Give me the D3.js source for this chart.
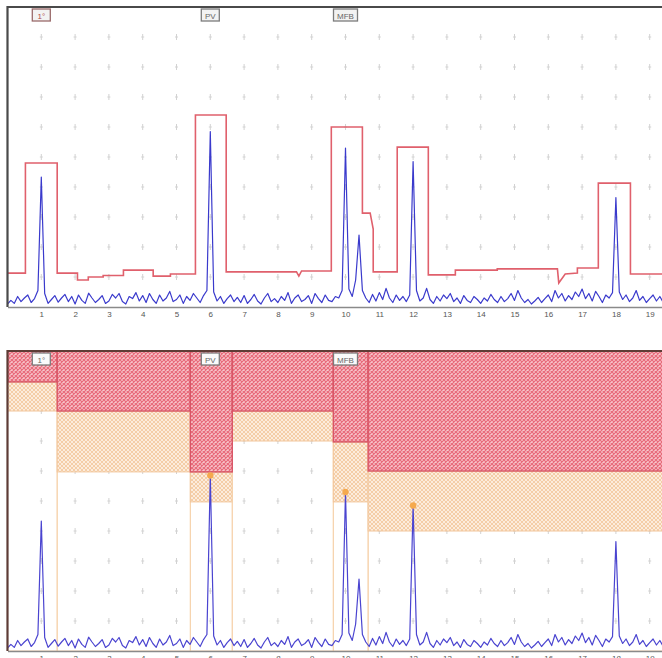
<!DOCTYPE html>
<html>
<head>
<meta charset="utf-8">
<script src="https://cdn.jsdelivr.net/npm/d3@7"></script>
<style>
  body { margin: 0; background: #fff; }
  svg { display: block; font-family: "Liberation Sans", Arial, sans-serif; }
</style>
</head>
<body>
<svg id="chart" width="662" height="658"></svg>
<script>
'use strict';

// signal sampled every 0.1 units on the x axis (0.0 .. 19.9)
var signal = [
  0.10,0.22,0.12,0.35,0.18,0.30,0.40,0.15,0.28,0.55,
  4.33,0.45,0.12,0.25,0.38,0.16,0.30,0.42,0.18,0.35,
  0.10,0.40,0.22,0.12,0.46,0.30,0.15,0.25,0.38,0.12,
  0.20,0.42,0.30,0.45,0.18,0.10,0.35,0.28,0.48,0.20,
  0.38,0.15,0.45,0.25,0.12,0.40,0.20,0.30,0.52,0.18,
  0.25,0.40,0.12,0.35,0.22,0.45,0.30,0.15,0.38,0.55,
  5.85,0.50,0.20,0.35,0.12,0.28,0.40,0.18,0.32,0.15,
  0.38,0.12,0.25,0.42,0.20,0.10,0.30,0.45,0.18,0.28,
  0.15,0.35,0.22,0.48,0.12,0.30,0.40,0.18,0.25,0.38,
  0.12,0.45,0.28,0.15,0.40,0.22,0.18,0.35,0.30,0.55,
  5.30,0.60,0.35,0.90,2.40,0.55,0.30,0.15,0.42,0.20,
  0.48,0.25,0.62,0.30,0.15,0.40,0.22,0.35,0.18,0.40,
  4.85,0.55,0.20,0.30,0.62,0.25,0.12,0.35,0.20,0.40,
  0.28,0.45,0.18,0.30,0.12,0.38,0.22,0.15,0.35,0.25,
  0.12,0.30,0.20,0.42,0.25,0.15,0.35,0.18,0.28,0.45,
  0.22,0.55,0.30,0.15,0.25,0.10,0.20,0.32,0.15,0.28,
  0.40,0.18,0.55,0.30,0.45,0.20,0.38,0.25,0.50,0.35,
  0.60,0.28,0.45,0.20,0.52,0.35,0.15,0.40,0.30,0.48,
  3.65,0.50,0.25,0.40,0.18,0.30,0.55,0.22,0.35,0.15,
  0.28,0.40,0.20,0.35,0.15,0.30,0.22,0.40,0.18,0.30
];
var signalStep = 0.1;

// red envelope of the upper panel (vertices)
var envX = [0,0.53,0.53,1.47,1.47,2.07,2.07,2.39,2.39,2.83,2.83,3.43,3.43,4.31,4.31,4.82,4.82,5.56,5.56,6.47,6.47,8.55,8.62,8.7,9.58,9.58,10.5,10.5,10.73,10.82,10.82,11.53,11.53,12.45,12.45,13.25,13.25,14.49,14.49,16.27,16.31,16.5,16.86,16.86,17.48,17.48,18.43,18.43,20];
var envY = [1.13,1.13,4.8,4.8,1.13,1.13,0.9,0.9,1.0,1.0,1.05,1.05,1.23,1.23,1.03,1.03,1.1,1.1,6.4,6.4,1.17,1.17,1.03,1.2,1.2,6.0,6.0,3.13,3.13,2.6,1.17,1.17,5.33,5.33,1.07,1.07,1.23,1.23,1.27,1.27,0.8,1.1,1.13,1.3,1.3,4.13,4.13,1.1,1.1];

// lower panel zones
var zoneStart = [0, 1.47, 5.41, 6.65, 9.64, 10.67];
var zoneEnd = [1.47, 5.41, 6.65, 9.64, 10.67, 20];
var zoneRed = [8.97, 8.0, 5.97, 8.0, 6.97, 6.0];
var zonePeach = [8.0, 5.97, 4.97, 7.0, 4.97, 4.0];

var markNames = ['1\u00b0', 'PV', 'MFB'];
var markPos = [1, 6, 10];
var dotPos = [6, 10, 12];
var dotVal = [5.85, 5.30, 4.85];

var tickVals = d3.range(1, 20);
var gridCols = d3.range(1, 20);
var gridRows = d3.range(1, 10);

var svg = d3.select('#chart');
var x = d3.scaleLinear().domain([0, 20]).range([7.5, 683.5]);

var defs = svg.append('defs');
var pr = defs.append('pattern').attr('id', 'hatchRed')
  .attr('patternUnits', 'userSpaceOnUse').attr('width', 4).attr('height', 4);
pr.append('rect').attr('width', 4).attr('height', 4).attr('fill', '#f8c6cc');
pr.append('path').attr('d', 'M0,0L4,4M4,0L0,4').attr('stroke', '#e86a7a').attr('stroke-width', 1.2);
var pp = defs.append('pattern').attr('id', 'hatchPeach')
  .attr('patternUnits', 'userSpaceOnUse').attr('width', 4).attr('height', 4);
pp.append('rect').attr('width', 4).attr('height', 4).attr('fill', '#fcecdc');
pp.append('path').attr('d', 'M0,0L4,4M4,0L0,4').attr('stroke', '#f3c9a2').attr('stroke-width', 0.9);

function drawPanel(id, yTop, yBottom, lower) {
  var y = d3.scaleLinear().domain([0, 10]).range([yBottom, yTop]);
  defs.append('clipPath').attr('id', 'clip' + id)
    .append('rect').attr('x', x(0)).attr('y', y(10))
    .attr('width', 662 - x(0)).attr('height', y(0) - y(10));
  var g = svg.append('g');
  var body = g.append('g').attr('clip-path', 'url(#clip' + id + ')');

  // grid marks
  gridRows.forEach(function (r) {
    gridCols.forEach(function (c) {
      body.append('path')
        .attr('d', 'M' + x(c) + ',' + (y(r) - 3) + 'v6M' + (x(c) - 1.5) + ',' + y(r) + 'h3')
        .attr('stroke', '#d2d2d2').attr('stroke-width', 1).attr('fill', 'none');
    });
  });

  if (lower) {
    zoneStart.forEach(function (s, i) {
      body.append('rect')
        .attr('x', x(s)).attr('y', y(10))
        .attr('width', x(zoneEnd[i]) - x(s)).attr('height', y(0) - y(10))
        .attr('fill', 'none').attr('stroke', '#f6d3ae').attr('stroke-width', 1);
      body.append('rect')
        .attr('x', x(s)).attr('y', y(zoneRed[i]))
        .attr('width', x(zoneEnd[i]) - x(s)).attr('height', y(zonePeach[i]) - y(zoneRed[i]))
        .attr('fill', 'url(#hatchPeach)').attr('stroke', '#f2c69c').attr('stroke-width', 1);
    });
    zoneStart.forEach(function (s, i) {
      body.append('rect')
        .attr('x', x(s)).attr('y', y(10))
        .attr('width', x(zoneEnd[i]) - x(s)).attr('height', y(zoneRed[i]) - y(10))
        .attr('fill', 'url(#hatchRed)').attr('stroke', '#d85566').attr('stroke-width', 1.4);
    });
  } else {
    var env = d3.line()
      .x(function (d, i) { return x(envX[i]); })
      .y(function (d) { return y(d); });
    body.append('path')
      .attr('d', env(envY))
      .attr('fill', 'none').attr('stroke', '#e0606c').attr('stroke-width', 1.6);
  }

  var line = d3.line()
    .x(function (d, i) { return x(i * signalStep); })
    .y(function (d) { return y(d); });
  body.append('path')
    .attr('d', line(signal))
    .attr('fill', 'none')
    .attr('stroke', lower ? '#4a44d0' : '#3a3acc')
    .attr('stroke-width', 1.2)
    .attr('stroke-linejoin', 'round');

  if (lower) {
    dotPos.forEach(function (p, i) {
      body.append('circle').attr('cx', x(p)).attr('cy', y(dotVal[i])).attr('r', 3.2)
        .attr('fill', '#f5a94e');
    });
  }

  // tag boxes
  markNames.forEach(function (n, i) {
    var w = n.length * 6 + 6;
    var tg = body.append('g');
    tg.append('rect')
      .attr('x', x(markPos[i]) - w / 2).attr('y', y(10) + 2)
      .attr('width', w).attr('height', 12)
      .attr('fill', lower ? '#fafafa' : '#f2f2f2')
      .attr('stroke', (i === 0 && !lower) ? '#9a6a6a' : '#7c7c7c').attr('stroke-width', 1.3);
    tg.append('text')
      .attr('x', x(markPos[i])).attr('y', y(10) + 11.5)
      .attr('text-anchor', 'middle').attr('font-size', 8)
      .attr('fill', (i === 0 && !lower) ? '#b04a4a' : '#666')
      .text(n);
  });

  // frame
  g.append('path')
    .attr('d', 'M' + x(0) + ',' + y(0) + 'V' + y(10) + 'H662')
    .attr('fill', 'none')
    .attr('stroke', lower ? '#5e3c36' : '#4a4a4a').attr('stroke-width', 2.2);

  var axis = d3.axisBottom(x).tickValues(tickVals).tickSize(0).tickPadding(4)
    .tickFormat(d3.format('d'));
  var ax = g.append('g')
    .attr('transform', 'translate(0,' + y(0) + ')')
    .call(axis);
  ax.select('.domain').attr('stroke', '#8a8a8a').attr('stroke-width', 1.5);
  ax.selectAll('text').attr('font-size', 8).attr('fill', '#555')
    .attr('font-family', '"Liberation Sans", Arial, sans-serif');
}

drawPanel('top', 7, 307, false);
drawPanel('bot', 351, 651, true);
</script>
</body>
</html>
